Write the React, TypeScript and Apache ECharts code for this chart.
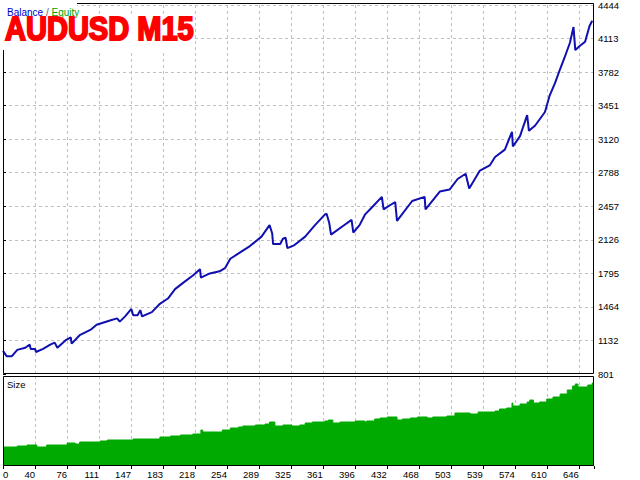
import { useEffect, useRef } from "react";
import * as echarts from "echarts";

// x axis: trade numbers, y axis: balance in deposit currency
const X_LABELS = ["0", "40", "76", "111", "147", "183", "218", "254", "289", "325", "361", "396", "432", "468", "503", "539", "574", "610", "646"];
const X_STEP = 646 / 18;
const X_MAX = 663;

const Y_LABELS = ["801", "1132", "1464", "1795", "2126", "2457", "2788", "3120", "3451", "3782", "4113", "4444"];
const Y_MIN = 801;
const Y_MAX = 4444;
const Y_STEP = (Y_MAX - Y_MIN) / 11;

const BALANCE_T = [0, 4, 10, 16, 25, 30, 31, 36, 37, 45, 53, 58, 61, 70, 76, 77, 86, 98, 105, 120, 128, 131, 137, 144, 146, 151, 154, 156, 167, 176, 185, 193, 202, 213, 221, 222, 232, 243, 249, 255, 266, 277, 290, 299, 302, 303, 311, 314, 317, 319, 327, 339, 350, 361, 363, 366, 368, 381, 391, 393, 400, 406, 414, 425, 427, 434, 440, 442, 459, 473, 474, 490, 501, 510, 519, 523, 535, 546, 552, 563, 571, 572, 580, 588, 590, 597, 608, 613, 619, 625, 630, 636, 640, 642, 647, 653, 658, 661];
const BALANCE_V = [1029, 977, 977, 1039, 1060, 1091, 1049, 1049, 1018, 1049, 1091, 1111, 1060, 1132, 1163, 1101, 1184, 1236, 1287, 1329, 1350, 1318, 1370, 1443, 1381, 1381, 1432, 1370, 1412, 1494, 1546, 1639, 1701, 1774, 1836, 1753, 1794, 1815, 1846, 1939, 2001, 2064, 2157, 2271, 2188, 2084, 2084, 2136, 2146, 2043, 2074, 2157, 2271, 2374, 2384, 2291, 2177, 2260, 2322, 2198, 2271, 2374, 2447, 2550, 2426, 2467, 2498, 2312, 2509, 2550, 2426, 2602, 2622, 2726, 2778, 2633, 2809, 2860, 2943, 3016, 3192, 3047, 3150, 3357, 3202, 3254, 3388, 3544, 3668, 3812, 3926, 4071, 4226, 3999, 4040, 4082, 4237, 4289];

// lot size per trade (relative units, the panel has no scale)
const SIZE_T = [0, 16, 27, 38, 49, 64, 72, 81, 86, 98, 109, 117, 131, 146, 165, 176, 188, 199, 213, 222, 224, 246, 255, 264, 269, 283, 294, 299, 305, 314, 324, 333, 339, 347, 353, 361, 365, 370, 378, 395, 406, 408, 417, 423, 431, 442, 448, 457, 465, 476, 482, 490, 498, 507, 516, 524, 533, 543, 552, 557, 565, 571, 572, 580, 588, 591, 595, 602, 610, 617, 625, 633, 639, 642, 645, 656, 661, 663];
const SIZE_V = [0.19, 0.2, 0.21, 0.19, 0.21, 0.21, 0.23, 0.22, 0.24, 0.24, 0.25, 0.26, 0.26, 0.27, 0.27, 0.29, 0.3, 0.31, 0.32, 0.36, 0.34, 0.36, 0.38, 0.39, 0.4, 0.41, 0.42, 0.44, 0.4, 0.41, 0.4, 0.41, 0.43, 0.44, 0.44, 0.45, 0.46, 0.43, 0.44, 0.45, 0.44, 0.45, 0.47, 0.48, 0.49, 0.46, 0.47, 0.48, 0.49, 0.48, 0.49, 0.49, 0.5, 0.53, 0.53, 0.52, 0.54, 0.54, 0.55, 0.57, 0.58, 0.63, 0.6, 0.62, 0.64, 0.66, 0.63, 0.64, 0.67, 0.69, 0.72, 0.76, 0.8, 0.82, 0.79, 0.81, 0.83, 0.83];

const FONT = "'Liberation Sans', Arial, sans-serif";
const GRID_LINE = { show: true, lineStyle: { color: "#c0c0c0", type: [3, 3] as number[], width: 1 } };

const xLabel = (v: number) => {
  const i = Math.round(v / X_STEP);
  return Math.abs(v - i * X_STEP) < 0.5 && i < X_LABELS.length ? X_LABELS[i] : "";
};
const yLabel = (v: number) => {
  const i = Math.round(v / Y_STEP);
  return Math.abs(v - i * Y_STEP) < 1 && i < Y_LABELS.length ? Y_LABELS[i] : "";
};

export default function App() {
  const ref = useRef<HTMLDivElement>(null);

  useEffect(() => {
    document.body.style.margin = "0";
    if (!ref.current) return;
    const chart = echarts.init(ref.current, null, { renderer: "svg" });
    chart.setOption({
      animation: false,
      backgroundColor: "#fff",
      grid: [
        { left: 3, top: 3, width: 591, height: 371 },
        { left: 3, top: 376, width: 591, height: 90 },
      ],
      xAxis: [
        {
          gridIndex: 0, type: "value", min: 0, max: X_MAX, interval: X_STEP,
          axisLine: { show: false }, axisTick: { show: false }, axisLabel: { show: false },
          splitLine: { ...GRID_LINE, showMinLine: false, showMaxLine: false },
        },
        {
          gridIndex: 1, type: "value", min: 0, max: X_MAX, interval: X_STEP,
          axisLine: { show: false },
          axisTick: { show: true, length: 3, lineStyle: { color: "#000" } },
          axisLabel: {
            formatter: xLabel, color: "#000", fontSize: 9.5, fontFamily: FONT, margin: 3,
            align: "right", alignMinLabel: "left", showMinLabel: true, hideOverlap: false,
          },
          splitLine: { ...GRID_LINE, showMinLine: false, showMaxLine: false },
        },
      ],
      yAxis: [
        {
          gridIndex: 0, type: "value", position: "right", min: 0, max: Y_MAX - Y_MIN, interval: Y_STEP,
          axisLine: { show: false },
          axisTick: { show: true, length: 3, lineStyle: { color: "#000" } },
          axisLabel: { formatter: yLabel, color: "#000", fontSize: 9.5, fontFamily: FONT, margin: 4, align: "left" },
          splitLine: { ...GRID_LINE, showMinLine: false, showMaxLine: false },
        },
        {
          gridIndex: 1, type: "value", min: 0, max: 0.9,
          axisLine: { show: false }, axisTick: { show: false }, axisLabel: { show: false }, splitLine: { show: false },
        },
      ],
      series: [
        {
          type: "line", xAxisIndex: 1, yAxisIndex: 1, step: "end", symbol: "none",
          data: SIZE_T.map((t, i) => [t, SIZE_V[i]]),
          lineStyle: { color: "#00aa00", width: 1 },
          areaStyle: { color: "#00aa00", opacity: 1 },
          z: 2,
        },
        {
          type: "line", xAxisIndex: 0, yAxisIndex: 0, symbol: "none",
          data: BALANCE_T.map((t, i) => [t, BALANCE_V[i] - Y_MIN]),
          lineStyle: { color: "#1010b0", width: 2 },
          z: 3,
        },
      ],
      graphic: [
        { type: "rect", z: 50, silent: true, shape: { x: 3.5, y: 3.5, width: 590, height: 370 }, style: { fill: "none", stroke: "#000", lineWidth: 1 } },
        { type: "rect", z: 50, silent: true, shape: { x: 3.5, y: 376.5, width: 590, height: 89 }, style: { fill: "none", stroke: "#000", lineWidth: 1 } },
        { type: "rect", z: 60, silent: true, shape: { x: 0, y: 0, width: 77, height: 17 }, style: { fill: "#fff" } },
        { type: "rect", z: 60, silent: true, shape: { x: 0, y: 17, width: 194, height: 33 }, style: { fill: "#fff" } },
        {
          type: "text", z: 70, silent: true, x: 7, y: 12,
          style: {
            text: "{b|Balance} {s|/} {e|Equity}",
            verticalAlign: "middle",
            font: `10px ${FONT}`,
            rich: {
              b: { fill: "#0000c8", fontSize: 10, fontFamily: FONT },
              s: { fill: "#606060", fontSize: 10, fontFamily: FONT },
              e: { fill: "#00a000", fontSize: 10, fontFamily: FONT },
            },
          },
        },
        {
          type: "text", z: 70, silent: true, x: 5, y: 29, scaleX: 0.88,
          style: {
            text: "AUDUSD M15", fill: "#ff0000", stroke: "#ff0000", lineWidth: 2,
            font: `bold 33px ${FONT}`, verticalAlign: "middle",
          },
        },
        {
          type: "text", z: 70, silent: true, x: 7, y: 384,
          style: { text: "Size", fill: "#000", font: `9.5px ${FONT}`, verticalAlign: "middle" },
        },
      ],
    });
    return () => chart.dispose();
  }, []);

  return <div ref={ref} style={{ position: "absolute", left: 0, top: 0, width: 640, height: 480 }} />;
}
